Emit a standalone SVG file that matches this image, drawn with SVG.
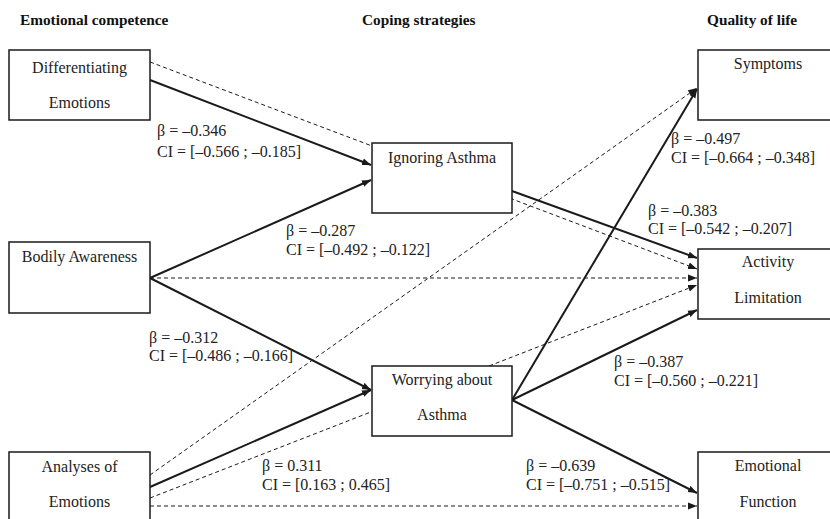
<svg xmlns="http://www.w3.org/2000/svg" width="830" height="519" viewBox="0 0 830 519">
<style>
.hdr{font-family:"Liberation Serif","Times New Roman",serif;font-weight:bold;font-size:15.3px;fill:#111}
.nt{font-family:"Liberation Serif","Times New Roman",serif;font-size:16px;fill:#222;text-anchor:middle}
.lb{font-family:"Liberation Serif","Times New Roman",serif;font-size:16px;fill:#222}
.box{fill:#fff;stroke:#1a1a1a;stroke-width:1.5}
.sol{stroke:#1a1a1a;stroke-width:2;fill:none;marker-end:url(#ah)}
.dsh{stroke:#1a1a1a;stroke-width:1;stroke-dasharray:4 3;fill:none;marker-end:url(#ah)}
</style>
<defs>
<marker id="ah" markerUnits="userSpaceOnUse" markerWidth="10" markerHeight="8" refX="9" refY="4" orient="auto">
<path d="M0,0.5 L9,4 L0,7.5 z" fill="#1a1a1a"/>
</marker>
</defs>
<rect width="830" height="519" fill="#fff"/>
<text class="hdr" x="20" y="25">Emotional competence</text>
<text class="hdr" x="362" y="25">Coping strategies</text>
<text class="hdr" x="707" y="25">Quality of life</text>
<g id="connectors">
<line class="sol" x1="150" y1="80" x2="371" y2="165"/>
<line class="dsh" x1="150" y1="62" x2="697" y2="269"/>
<line class="sol" x1="150" y1="278" x2="371" y2="180"/>
<line class="dsh" x1="150" y1="278" x2="697" y2="278"/>
<line class="sol" x1="150" y1="278" x2="371" y2="390"/>
<line class="dsh" x1="150" y1="475" x2="697" y2="88"/>
<line class="sol" x1="150" y1="487" x2="371" y2="390"/>
<line class="dsh" x1="150" y1="498" x2="697" y2="285"/>
<line class="dsh" x1="150" y1="506" x2="697" y2="506"/>
<line class="sol" x1="512" y1="191" x2="697" y2="258"/>
<line class="sol" x1="512" y1="400" x2="697" y2="89"/>
<line class="sol" x1="512" y1="400" x2="697" y2="310"/>
<line class="sol" x1="512" y1="400" x2="697" y2="493"/>
</g>
<g id="differentiating-emotions">
<rect class="box" x="9" y="50" width="141" height="70"/>
<text class="nt" x="79.5" y="73">Differentiating</text>
<text class="nt" x="79.5" y="108">Emotions</text>
</g>
<g id="bodily-awareness">
<rect class="box" x="9" y="242" width="141" height="71"/>
<text class="nt" x="79.5" y="262">Bodily Awareness</text>
</g>
<g id="analyses-of-emotions">
<rect class="box" x="9" y="452" width="141" height="70"/>
<text class="nt" x="79.5" y="472">Analyses of</text>
<text class="nt" x="79.5" y="507">Emotions</text>
</g>
<g id="ignoring-asthma">
<rect class="box" x="372" y="143" width="140" height="70"/>
<text class="nt" x="442" y="163">Ignoring Asthma</text>
</g>
<g id="worrying-about-asthma">
<rect class="box" x="372" y="366" width="140" height="70"/>
<text class="nt" x="442" y="385">Worrying about</text>
<text class="nt" x="442" y="420">Asthma</text>
</g>
<g id="symptoms">
<rect class="box" x="698" y="50" width="141" height="70"/>
<text class="nt" x="768" y="69">Symptoms</text>
</g>
<g id="activity-limitation">
<rect class="box" x="698" y="249" width="141" height="70"/>
<text class="nt" x="768" y="267">Activity</text>
<text class="nt" x="768" y="303">Limitation</text>
</g>
<g id="emotional-function">
<rect class="box" x="698" y="452" width="141" height="70"/>
<text class="nt" x="768" y="471">Emotional</text>
<text class="nt" x="768" y="507">Function</text>
</g>
<g id="labels">
<text class="lb" x="157" y="136">β = –0.346</text>
<text class="lb" x="157" y="157">CI = [–0.566 ; –0.185]</text>
<text class="lb" x="286" y="236">β = –0.287</text>
<text class="lb" x="286" y="255">CI = [–0.492 ; –0.122]</text>
<text class="lb" x="149" y="343">β = –0.312</text>
<text class="lb" x="149" y="361">CI = [–0.486 ; –0.166]</text>
<text class="lb" x="262" y="471">β = 0.311</text>
<text class="lb" x="262" y="490">CI = [0.163 ; 0.465]</text>
<text class="lb" x="671" y="144">β = –0.497</text>
<text class="lb" x="671" y="163">CI = [–0.664 ; –0.348]</text>
<text class="lb" x="648" y="216">β = –0.383</text>
<text class="lb" x="648" y="234">CI = [–0.542 ; –0.207]</text>
<text class="lb" x="614" y="367">β = –0.387</text>
<text class="lb" x="614" y="386">CI = [–0.560 ; –0.221]</text>
<text class="lb" x="526" y="471">β = –0.639</text>
<text class="lb" x="526" y="490">CI = [–0.751 ; –0.515]</text>
</g>
</svg>
